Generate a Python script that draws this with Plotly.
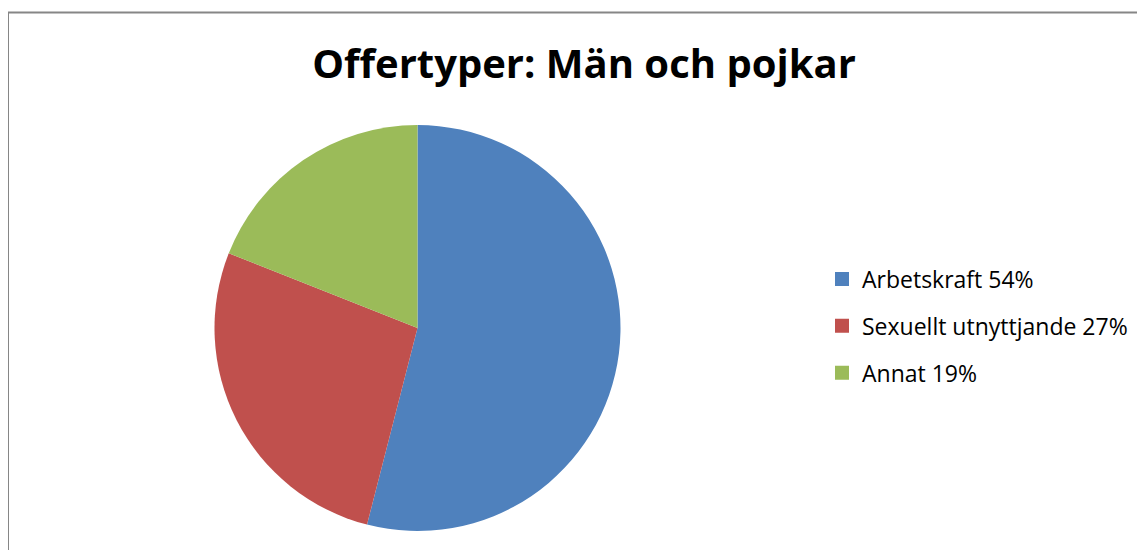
import plotly.graph_objects as go

labels = ["Arbetskraft", "Sexuellt utnyttjande", "Annat"]
values = [54, 27, 19]
legend_text = ["Arbetskraft 54%", "Sexuellt utnyttjande 27%", "Annat 19%"]
colors = ["#4F81BD", "#C0504D", "#9BBB59"]
title = "Offertyper: Män och pojkar"

OFF = 8  # page body margin
W, H = 1145 - OFF, 550 - OFF


def fx(px):
    return (px - OFF) / W


def fy(py):
    return 1 - (py - OFF) / H


fig = go.Figure()
fig.add_trace(go.Pie(
    labels=labels, values=values, sort=False, direction="clockwise", rotation=0,
    marker=dict(colors=colors, line=dict(width=0)),
    textinfo="none", hoverinfo="label+percent", showlegend=False,
    domain=dict(x=[fx(214), fx(621)], y=[fy(531), fy(125)]),
))
for i, (t, c) in enumerate(zip(legend_text, colors)):
    fig.add_trace(go.Scatter(
        x=[None], y=[None], mode="markers", name=t, legendgroup=f"g{i}",
        marker=dict(symbol="square", size=14, color=c), showlegend=True,
    ))

fig.update_layout(
    width=W, height=H,
    margin=dict(l=0, r=0, t=0, b=0),
    paper_bgcolor="white", plot_bgcolor="white",
    xaxis=dict(visible=False), yaxis=dict(visible=False),
    title=dict(text=f"<b>{title}</b>", x=fx(584), xanchor="center",
               y=fy(64), yanchor="middle",
               font=dict(family="Open Sans", size=40, color="black")),
    legend=dict(x=fx(822), y=fy(326), xanchor="left", yanchor="middle",
                font=dict(family="Open Sans", size=23, color="black"),
                tracegroupgap=14, itemclick=False, bgcolor="rgba(0,0,0,0)"),
    shapes=[dict(type="rect", xref="paper", yref="paper",
                 x0=0, x1=1.05, y0=-0.05, y1=fy(12.5),
                 line=dict(color="#868686", width=2), fillcolor="rgba(0,0,0,0)",
                 layer="below")],
)
fig.write_html("out.html")
